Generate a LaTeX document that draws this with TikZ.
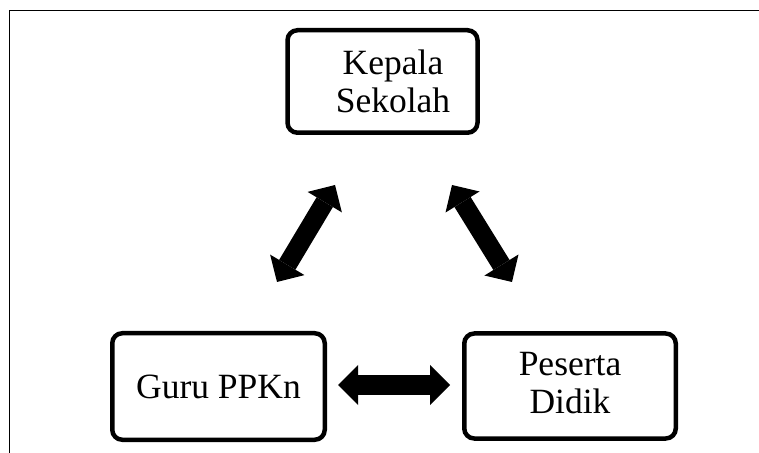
\documentclass[tikz,border=0pt]{standalone}
\usepackage{fontspec}
\setmainfont{Liberation Serif}
\usetikzlibrary{arrows.meta,calc}
\tikzset{
  rolebox/.style={draw=black, line width=4.5pt, rounded corners=10pt, inner sep=0pt,
    align=center, font=\fontsize{35.5pt}{38.5pt}\selectfont},
  bigarrow/.style={line width=19pt,
    {Triangle[length=20pt,width=40pt,line width=0pt]}-{Triangle[length=20pt,width=40pt,line width=0pt]}},
  frameline/.style={line width=1.8pt, line cap=rect}
}
\begin{document}
\begin{tikzpicture}[x=1pt,y=1pt]
\useasboundingbox (0,0) rectangle (759,452);
\draw[frameline] (9.5,0) -- (9.5,441.5) -- (759,441.5);
\node[rolebox, minimum width=190pt, minimum height=102.5pt] (kepala) at (382.5,370.5)
  {\hspace*{21pt}Kepala\\\hspace*{21pt}Sekolah};
\node[rolebox, minimum width=212.5pt, minimum height=106.5pt] (guru) at (218.5,65.5) {Guru PPKn};
\node[rolebox, minimum width=211.5pt, minimum height=105pt, text depth=6pt] (peserta) at (570,66) {Peserta\\Didik};
\coordinate (lu) at ($(kepala.center)+(-47.5,-103.5)$);
\coordinate (ll) at ($(guru.center)+(58.5,104.5)$);
\coordinate (ru) at ($(kepala.center)+(69.5,-103.5)$);
\coordinate (rl) at ($(peserta.center)+(-58,104)$);
\coordinate (hl) at ($(guru.center)+(119.5,1.5)$);
\coordinate (hr) at ($(peserta.center)+(-120,1)$);
\draw[bigarrow] (lu) -- (ll);
\draw[bigarrow] (ru) -- (rl);
\draw[bigarrow] (hl) -- (hr);
\end{tikzpicture}
\end{document}
